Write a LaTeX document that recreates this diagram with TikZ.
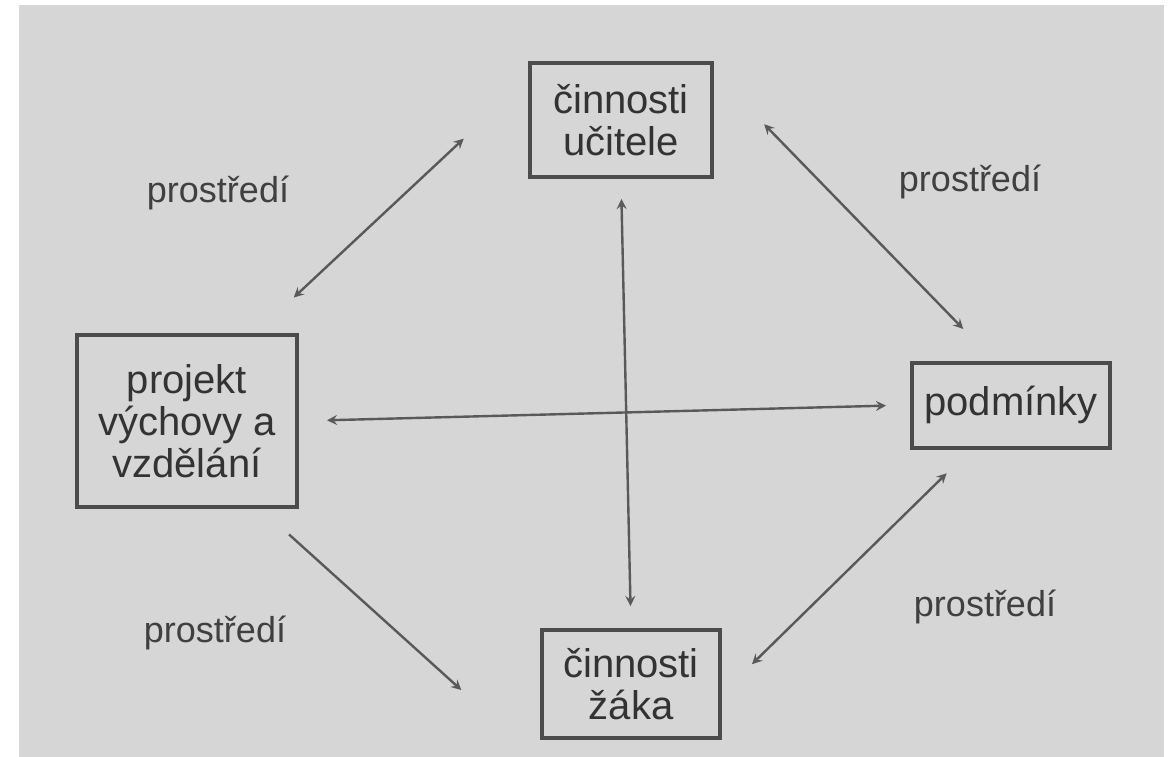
\documentclass[tikz,border=0pt]{standalone}
\usepackage{fontspec}
\setmainfont{Liberation Sans}
\usetikzlibrary{arrows}
\usetikzlibrary{calc}

\begin{document}
\begin{tikzpicture}[x=0.5pt, y=-0.5pt, >=stealth]
    \tikzset{
        box/.style={draw=black!70, line width=2pt, align=center, inner sep=0pt,
            font=\fontsize{20}{21}\selectfont, text=black!80},
        link/.style={<->, draw=black!65, line width=1.2pt},
        env/.style={font=\fontsize{18}{20}\selectfont, text=black!75}
    }
    \useasboundingbox (0,0) rectangle (1171,756);
    \fill [white] (0,0) rectangle (1171,756);
    \fill [black!16] (19,5) rectangle (1164,757);

    \node [box, minimum width=91pt, minimum height=57pt] (ucitel) at (621,120) {činnosti\\učitele};
    \node [box, minimum width=110pt, minimum height=86pt] (projekt) at (187,421) {projekt\\výchovy a\\vzdělání};
    \node [box, minimum width=99pt, minimum height=42.5pt] (podminky) at (1011,405) {podmínky};
    \node [box, minimum width=89pt, minimum height=54pt] (zak) at (631,684) {činnosti\\žáka};

    \node [env] (env1) at (218,193) {prostředí};
    \node [env] (env2) at (970,182) {prostředí};
    \node [env] (env3) at (215,633) {prostředí};
    \node [env] (env4) at (985,607) {prostředí};

    % diagonals
    \draw [link, shorten <=44pt, shorten >=26pt] (ucitel.156) -- (projekt.52);
    \draw [link, shorten <=36pt, shorten >=22pt] (ucitel.27) -- (podminky.111);
    \draw [link, shorten <=17pt, shorten >=21pt] (podminky.228) -- (zak.-6);
    \draw [link, ->, shorten <=19pt, shorten >=53pt] (projekt.-50) -- ($(zak.south west)+(0,21)$);

    % cross
    \draw [link, shorten <=10pt, shorten >=11pt] (ucitel.south) -- (zak.north);
    \draw [link, shorten <=14pt, shorten >=12pt] (projekt.east) -- (podminky.west);
\end{tikzpicture}
\end{document}
